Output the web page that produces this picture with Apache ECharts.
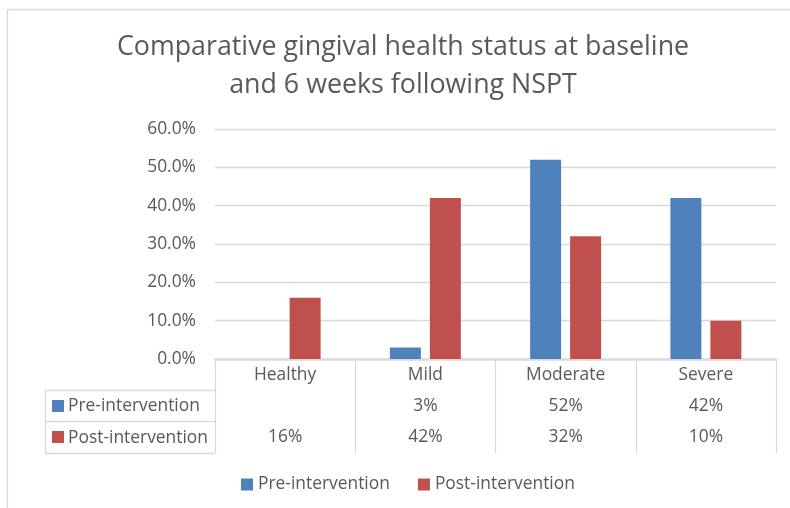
<!DOCTYPE html>
<html><head><meta charset="utf-8">
<script src="https://cdn.jsdelivr.net/npm/echarts@6/dist/echarts.min.js"></script>
<style>html,body{margin:0;padding:0;background:#fff}#c{width:790px;height:508px}</style>
</head><body><div id="c"></div>
<script>
const categories = ['Healthy', 'Mild', 'Moderate', 'Severe'];
const preValues = [null, 3, 52, 42];
const postValues = [16, 42, 32, 10];
const seriesNames = ['Pre-intervention', 'Post-intervention'];
const yTicks = [0, 10, 20, 30, 40, 50, 60];
const titleLines = ['Comparative gingival health status at baseline', 'and 6 weeks following NSPT'];

const FONT = 'Open Sans';
const FS = 17.4;
const TXT = '#595959';
const LINE = '#d9d9d9';
const BLUE = '#4f81bd', RED = '#c0504d';
const G = {left: 215, right: 14, top: 129, bottom: 149};
const plotBottom = 508 - G.bottom;
const rowH = [31, 31, 32];
const tableLeft = 45;
const fmtCell = v => (v == null ? '' : v + '%');

const chart = echarts.init(document.getElementById('c'), null, {renderer: 'canvas'});

const graphics = [
  {type: 'line', shape: {x1: 7.5, y1: 9.5, x2: 790, y2: 9.5}, style: {stroke: LINE, lineWidth: 1.3}},
  {type: 'line', shape: {x1: 7.5, y1: 9.5, x2: 7.5, y2: 508}, style: {stroke: LINE, lineWidth: 1.3}},
  {type: 'text', x: 403, y: 28, style: {text: titleLines.join('\n'), font: '26.8px ' + FONT, fill: TXT, textAlign: 'center', lineHeight: 38}}
];
// row label column of the data table
const y0 = plotBottom + rowH[0];
graphics.push({type: 'line', shape: {x1: tableLeft + 0.5, y1: y0 + 0.5, x2: tableLeft + 0.5, y2: y0 + rowH[1] + rowH[2] + 0.5}, style: {stroke: LINE, lineWidth: 1.3}});
const rowColors = [BLUE, RED];
for (let i = 0; i <= 2; i++) {
  const yy = plotBottom + rowH.slice(0, i + 1).reduce((a, b) => a + b, 0);
  graphics.push({type: 'line', shape: {x1: tableLeft, y1: yy + 0.5, x2: G.left, y2: yy + 0.5}, style: {stroke: LINE, lineWidth: 1.3}});
  if (i < 2) {
    graphics.push({type: 'rect', shape: {x: 52, y: yy + 10, width: 12, height: 12}, style: {fill: rowColors[i]}});
    graphics.push({type: 'text', x: 68, y: yy + rowH[i + 1] / 2 + 1, style: {text: seriesNames[i], font: FS + 'px ' + FONT, fill: TXT, textVerticalAlign: 'middle'}});
  }
}

const lbl = {color: TXT, fontSize: FS, fontFamily: FONT, margin: 8, interval: 0};
function tableAxis(gridIndex, offset, data, labelShow) {
  return {
    type: 'category', data: data, gridIndex: gridIndex, position: 'bottom', offset: offset,
    axisLine: {show: true, lineStyle: {color: LINE, width: 1.3}},
    axisTick: {show: false}, splitLine: {show: false},
    axisLabel: Object.assign({show: labelShow}, lbl)
  };
}
const xAxes = [
  Object.assign(tableAxis(0, 0, categories, true), {
    axisTick: {show: true, interval: 0, length: rowH[0] + rowH[1] + rowH[2], lineStyle: {color: LINE, width: 1.3}}
  }),
  tableAxis(1, rowH[0], preValues.map(fmtCell), true),
  tableAxis(2, rowH[0] + rowH[1], postValues.map(fmtCell), true),
  tableAxis(3, rowH[0] + rowH[1] + rowH[2], categories.map(() => ''), false)
];
const yAxes = [0, 1, 2, 3].map(i => ({
  type: 'value', gridIndex: i, min: yTicks[0], max: yTicks[yTicks.length - 1], interval: 10, show: i === 0,
  axisLine: {show: false}, axisTick: {show: false},
  splitLine: {show: i === 0, lineStyle: {color: LINE, width: 1.3}},
  axisLabel: {color: TXT, fontSize: FS, fontFamily: FONT, margin: 19, formatter: v => v.toFixed(1) + '%'}
}));

chart.setOption({
  animation: false,
  grid: [0, 1, 2, 3].map(() => Object.assign({}, G)),
  graphic: graphics,
  legend: {
    data: seriesNames, bottom: 10, left: 236, icon: 'rect', itemWidth: 12, itemHeight: 12, itemGap: 28,
    textStyle: {color: TXT, fontSize: FS, fontFamily: FONT}
  },
  xAxis: xAxes,
  yAxis: yAxes,
  series: [
    {name: seriesNames[0], type: 'bar', data: preValues, itemStyle: {color: BLUE}, barWidth: 31, barGap: '29%'},
    {name: seriesNames[1], type: 'bar', data: postValues, itemStyle: {color: RED}, barWidth: 31, barGap: '29%'}
  ]
});
</script></body></html>
